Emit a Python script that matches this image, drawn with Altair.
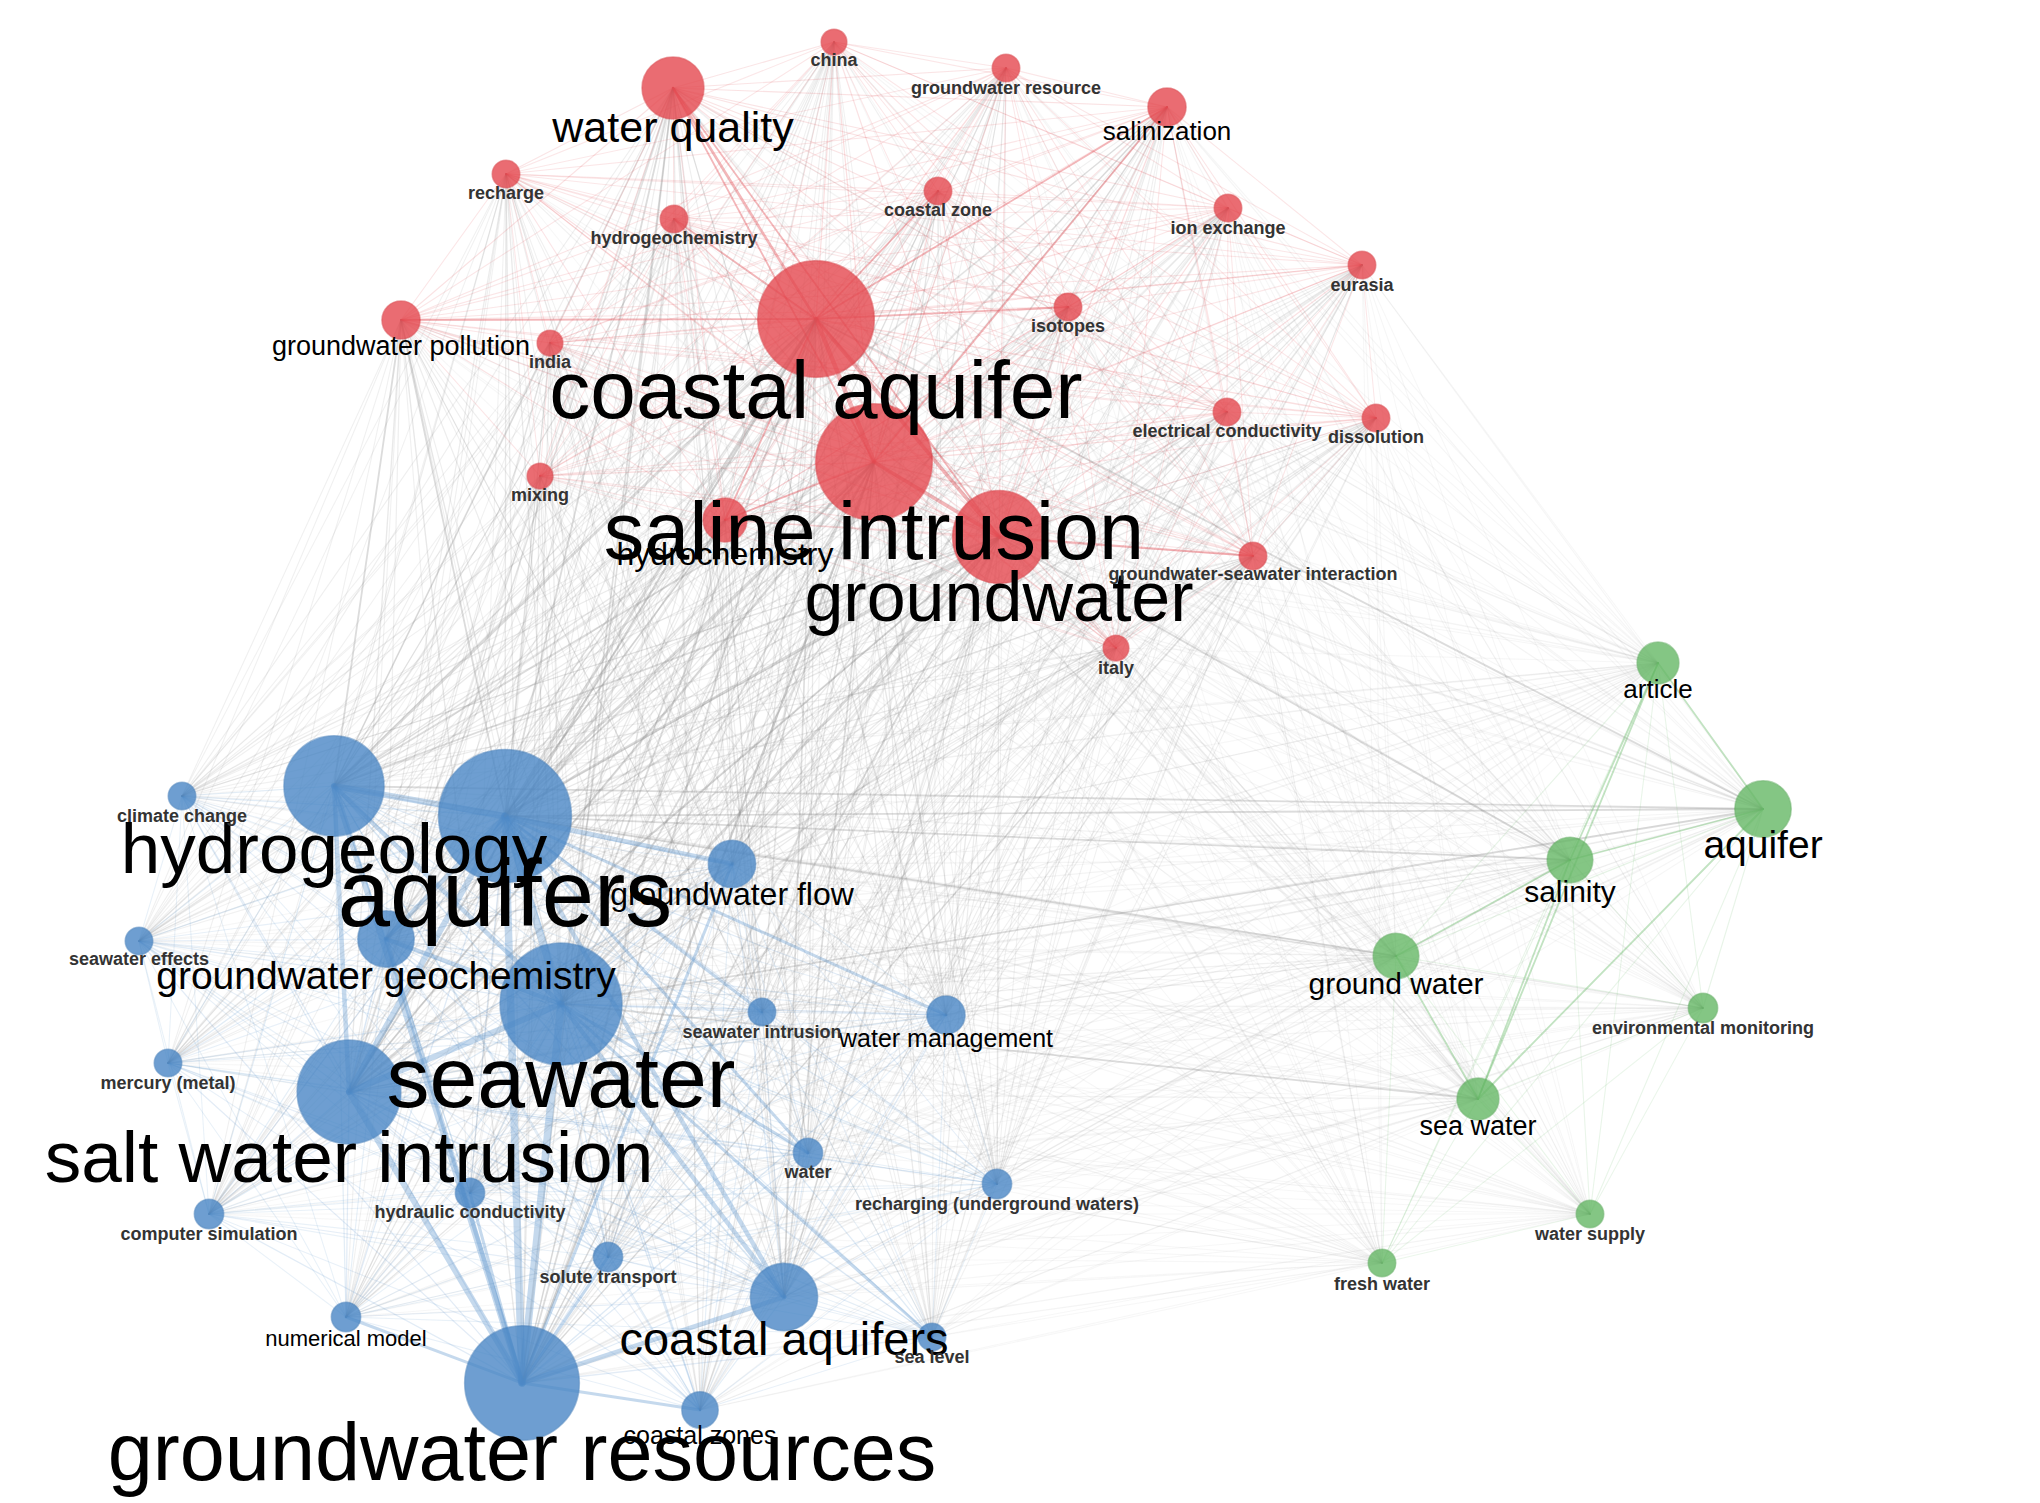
import math
import altair as alt
import pandas as pd

labels = [
    "china", "water quality", "groundwater resource", "salinization", "recharge",
    "coastal zone", "hydrogeochemistry", "ion exchange", "eurasia", "coastal aquifer",
    "isotopes", "groundwater pollution", "india", "electrical conductivity", "dissolution",
    "mixing", "saline intrusion", "hydrochemistry", "groundwater",
    "groundwater-seawater interaction", "italy",
    "climate change", "hydrogeology", "aquifers", "groundwater flow", "seawater effects",
    "groundwater geochemistry", "seawater", "seawater intrusion", "water management",
    "mercury (metal)", "salt water intrusion", "water", "recharging (underground waters)",
    "hydraulic conductivity", "computer simulation", "solute transport", "coastal aquifers",
    "numerical model", "sea level", "groundwater resources", "coastal zones",
    "article", "aquifer", "salinity", "ground water", "environmental monitoring",
    "sea water", "water supply", "fresh water",
]
cluster = [1] * 21 + [2] * 21 + [3] * 8

# map coordinates of the nodes
node_x = [834, 673, 1006, 1167, 506, 938, 674, 1228, 1362, 816, 1068, 401, 550, 1227, 1376,
          540, 874, 725, 999, 1253, 1116,
          182, 334, 505, 732, 139, 386, 561, 762, 946, 168, 349, 808, 997, 470, 209, 608,
          784, 346, 932, 522, 700,
          1658, 1763, 1570, 1396, 1703, 1478, 1590, 1382]
node_y = [42, 88, 68, 107, 174, 191, 219, 208, 265, 319, 307, 320, 343, 412, 418,
          476, 462, 520, 537, 556, 648,
          796, 786, 816, 864, 941, 939, 1004, 1012, 1015, 1063, 1092, 1153, 1184, 1193, 1214,
          1257, 1297, 1317, 1337, 1383, 1410,
          663, 809, 860, 956, 1008, 1099, 1214, 1263]
# occurrences (node weight -> circle area)
occurrences = [20, 116, 23, 44, 23, 23, 23, 23, 23, 410, 23, 44, 20, 23, 23,
               20, 410, 58, 260, 23, 20,
               23, 303, 533, 68, 23, 96, 449, 23, 44, 23, 325, 26, 26, 26, 26, 26,
               137, 26, 23, 397, 40,
               53, 96, 63, 63, 26, 53, 23, 23]
# label anchor (map coordinates) and label font size
label_y = [61, 129, 89, 132, 194, 211, 239, 229, 286, 393, 327, 347, 363, 432, 438,
           496, 535, 555, 600, 575, 669,
           817, 852, 898, 895, 960, 977, 1081, 1033, 1039, 1084, 1160, 1173, 1205, 1213, 1235,
           1278, 1341, 1339, 1358, 1456, 1436,
           690, 846, 893, 985, 1029, 1127, 1235, 1285]
label_size = [18, 43, 18, 26, 18, 18, 18, 18, 18, 82, 18, 27, 18, 18, 18,
              18, 81, 32, 70, 18, 18,
              18, 71, 94, 32, 18, 39, 86, 18, 25, 18, 73, 18, 18, 18, 18, 18,
              47, 22, 18, 81, 25,
              26, 39, 30, 30, 18, 27, 18, 18]

# strong co-occurrence links (source, target, strength)
strong_links = [
    ("coastal aquifer", "saline intrusion", 5), ("coastal aquifer", "groundwater", 4),
    ("saline intrusion", "groundwater", 4), ("coastal aquifer", "water quality", 3),
    ("water quality", "saline intrusion", 2), ("water quality", "groundwater", 2),
    ("coastal aquifer", "hydrochemistry", 2), ("saline intrusion", "hydrochemistry", 2),
    ("coastal aquifer", "salinization", 2), ("coastal aquifer", "hydrogeochemistry", 2),
    ("saline intrusion", "salinization", 2), ("coastal aquifer", "groundwater pollution", 2),
    ("groundwater", "groundwater-seawater interaction", 2), ("coastal aquifer", "isotopes", 2),
    ("coastal aquifer", "coastal zone", 2),
    ("aquifers", "seawater", 5), ("aquifers", "groundwater resources", 5),
    ("seawater", "groundwater resources", 5), ("salt water intrusion", "groundwater resources", 4),
    ("hydrogeology", "groundwater resources", 4), ("aquifers", "salt water intrusion", 4),
    ("hydrogeology", "aquifers", 4), ("seawater", "salt water intrusion", 4),
    ("aquifers", "coastal aquifers", 3), ("seawater", "coastal aquifers", 3),
    ("groundwater resources", "coastal aquifers", 3), ("hydrogeology", "seawater", 3),
    ("groundwater geochemistry", "seawater", 3), ("groundwater geochemistry", "aquifers", 3),
    ("groundwater geochemistry", "groundwater resources", 3), ("aquifers", "groundwater flow", 3),
    ("hydrogeology", "salt water intrusion", 3), ("aquifers", "water management", 2),
    ("groundwater resources", "coastal zones", 2), ("seawater", "water", 2),
    ("aquifers", "water", 2), ("groundwater resources", "hydraulic conductivity", 2),
    ("groundwater resources", "solute transport", 2), ("groundwater resources", "numerical model", 2),
    ("seawater", "sea level", 2), ("aquifers", "seawater intrusion", 2),
    ("groundwater resources", "groundwater flow", 2),
    ("coastal aquifer", "aquifers", 3), ("saline intrusion", "aquifers", 3),
    ("groundwater", "aquifers", 3), ("coastal aquifer", "hydrogeology", 3),
    ("saline intrusion", "hydrogeology", 2), ("groundwater", "hydrogeology", 2),
    ("groundwater", "seawater", 3), ("saline intrusion", "seawater", 2),
    ("coastal aquifer", "seawater", 2), ("groundwater", "groundwater resources", 2),
    ("coastal aquifer", "groundwater resources", 2), ("saline intrusion", "salt water intrusion", 2),
    ("water quality", "aquifers", 2), ("hydrochemistry", "aquifers", 2),
    ("aquifers", "aquifer", 2), ("hydrogeology", "aquifer", 2), ("seawater", "aquifer", 2),
    ("aquifers", "salinity", 2), ("groundwater", "salinity", 2), ("coastal aquifer", "aquifer", 2),
    ("aquifers", "ground water", 2), ("seawater", "sea water", 2),
    ("groundwater pollution", "hydrogeology", 2), ("groundwater pollution", "aquifers", 2),
    ("aquifer", "salinity", 2), ("salinity", "sea water", 2), ("ground water", "sea water", 2),
    ("article", "salinity", 2), ("article", "aquifer", 2), ("ground water", "salinity", 2),
    ("aquifer", "sea water", 2), ("article", "sea water", 2),
]

# ---------------- tables ----------------
fill_colors = {1: "#e5484f", 2: "#4a87c6", 3: "#66b866"}
stroke_colors = {1: "#d7343b", 2: "#3b77b5", 3: "#55a655"}
link_colors = {1: "#e04a52", 2: "#5a93cc", 3: "#66b866"}

nodes = pd.DataFrame({
    "label": labels, "cluster": cluster, "x": node_x, "y": node_y,
    "occ": occurrences, "ly": label_y, "fs": label_size,
})
nodes["fill"] = nodes["cluster"].map(fill_colors)
nodes["stroke"] = nodes["cluster"].map(stroke_colors)
big = nodes[nodes["fs"] > 18]
small = nodes[nodes["fs"] <= 18]

strong = {frozenset((a, b)): w for a, b, w in strong_links}
omax = max(occurrences)

rows = []
n = len(labels)
for i in range(n):
    for j in range(i + 1, n):
        key = frozenset((labels[i], labels[j]))
        same = cluster[i] == cluster[j]
        col = link_colors[cluster[i]] if same else "#8a8a8a"
        g = math.sqrt(occurrences[i] * occurrences[j]) / omax
        green_pair = 3 in (cluster[i], cluster[j])
        if key in strong:
            w = strong[key]
            if same and cluster[i] == 2:
                width, op = w * 1.5, 0.35
            elif same:
                width, op = w * 0.9, 0.4
            else:
                width, op = w * 0.9, 0.3
            rows.append({"x": node_x[i], "y": node_y[i], "x2": node_x[j], "y2": node_y[j],
                         "c": col, "w": width, "o": op, "k": 1})
        else:
            if same:
                op = 0.12 + 0.3 * g
            elif green_pair:
                op = 0.06 + 0.18 * g
            else:
                op = 0.10 + 0.4 * g
            rows.append({"x": node_x[i], "y": node_y[i], "x2": node_x[j], "y2": node_y[j],
                         "c": col, "w": 1.0 + 1.5 * g, "o": op, "k": 0})
links = pd.DataFrame(rows).sort_values("k")

W, H = 2040, 1503
xs = alt.Scale(domain=[0, W], nice=False, zero=False)
ys = alt.Scale(domain=[0, H], nice=False, zero=False, reverse=True)

link_layer = alt.Chart(links).mark_rule(strokeCap="round").encode(
    x=alt.X("x:Q", scale=xs, axis=None),
    y=alt.Y("y:Q", scale=ys, axis=None),
    x2="x2:Q", y2="y2:Q",
    color=alt.Color("c:N", scale=None),
    strokeWidth=alt.StrokeWidth("w:Q", scale=None),
    opacity=alt.Opacity("o:Q", scale=None),
)

rmax = 75
node_layer = alt.Chart(nodes).mark_circle(strokeWidth=1.5, strokeOpacity=0.6).encode(
    x=alt.X("x:Q", scale=xs, axis=None),
    y=alt.Y("y:Q", scale=ys, axis=None),
    size=alt.Size("occ:Q", scale=alt.Scale(type="linear", zero=True,
                                           domain=[0, omax],
                                           range=[0, math.pi * rmax * rmax]), legend=None),
    color=alt.Color("fill:N", scale=None),
    stroke=alt.Stroke("stroke:N", scale=None),
    opacity=alt.value(0.8),
)

big_text = alt.Chart(big).mark_text(
    font="Liberation Sans", align="center", baseline="middle", color="#000000"
).encode(
    x=alt.X("x:Q", scale=xs, axis=None),
    y=alt.Y("ly:Q", scale=ys, axis=None),
    text="label:N",
    size=alt.Size("fs:Q", scale=None),
)

small_text = alt.Chart(small).mark_text(
    font="Liberation Sans", align="center", baseline="middle", color="#333333",
    fontWeight="bold"
).encode(
    x=alt.X("x:Q", scale=xs, axis=None),
    y=alt.Y("ly:Q", scale=ys, axis=None),
    text="label:N",
    size=alt.Size("fs:Q", scale=None),
)

chart = alt.layer(link_layer, node_layer, big_text, small_text).properties(
    width=W, height=H, padding=0, autosize=alt.AutoSizeParams(type="none"),
    background="white",
).configure_view(stroke=None)

chart.save("out.html", embed_options={"renderer": "svg", "actions": False})
